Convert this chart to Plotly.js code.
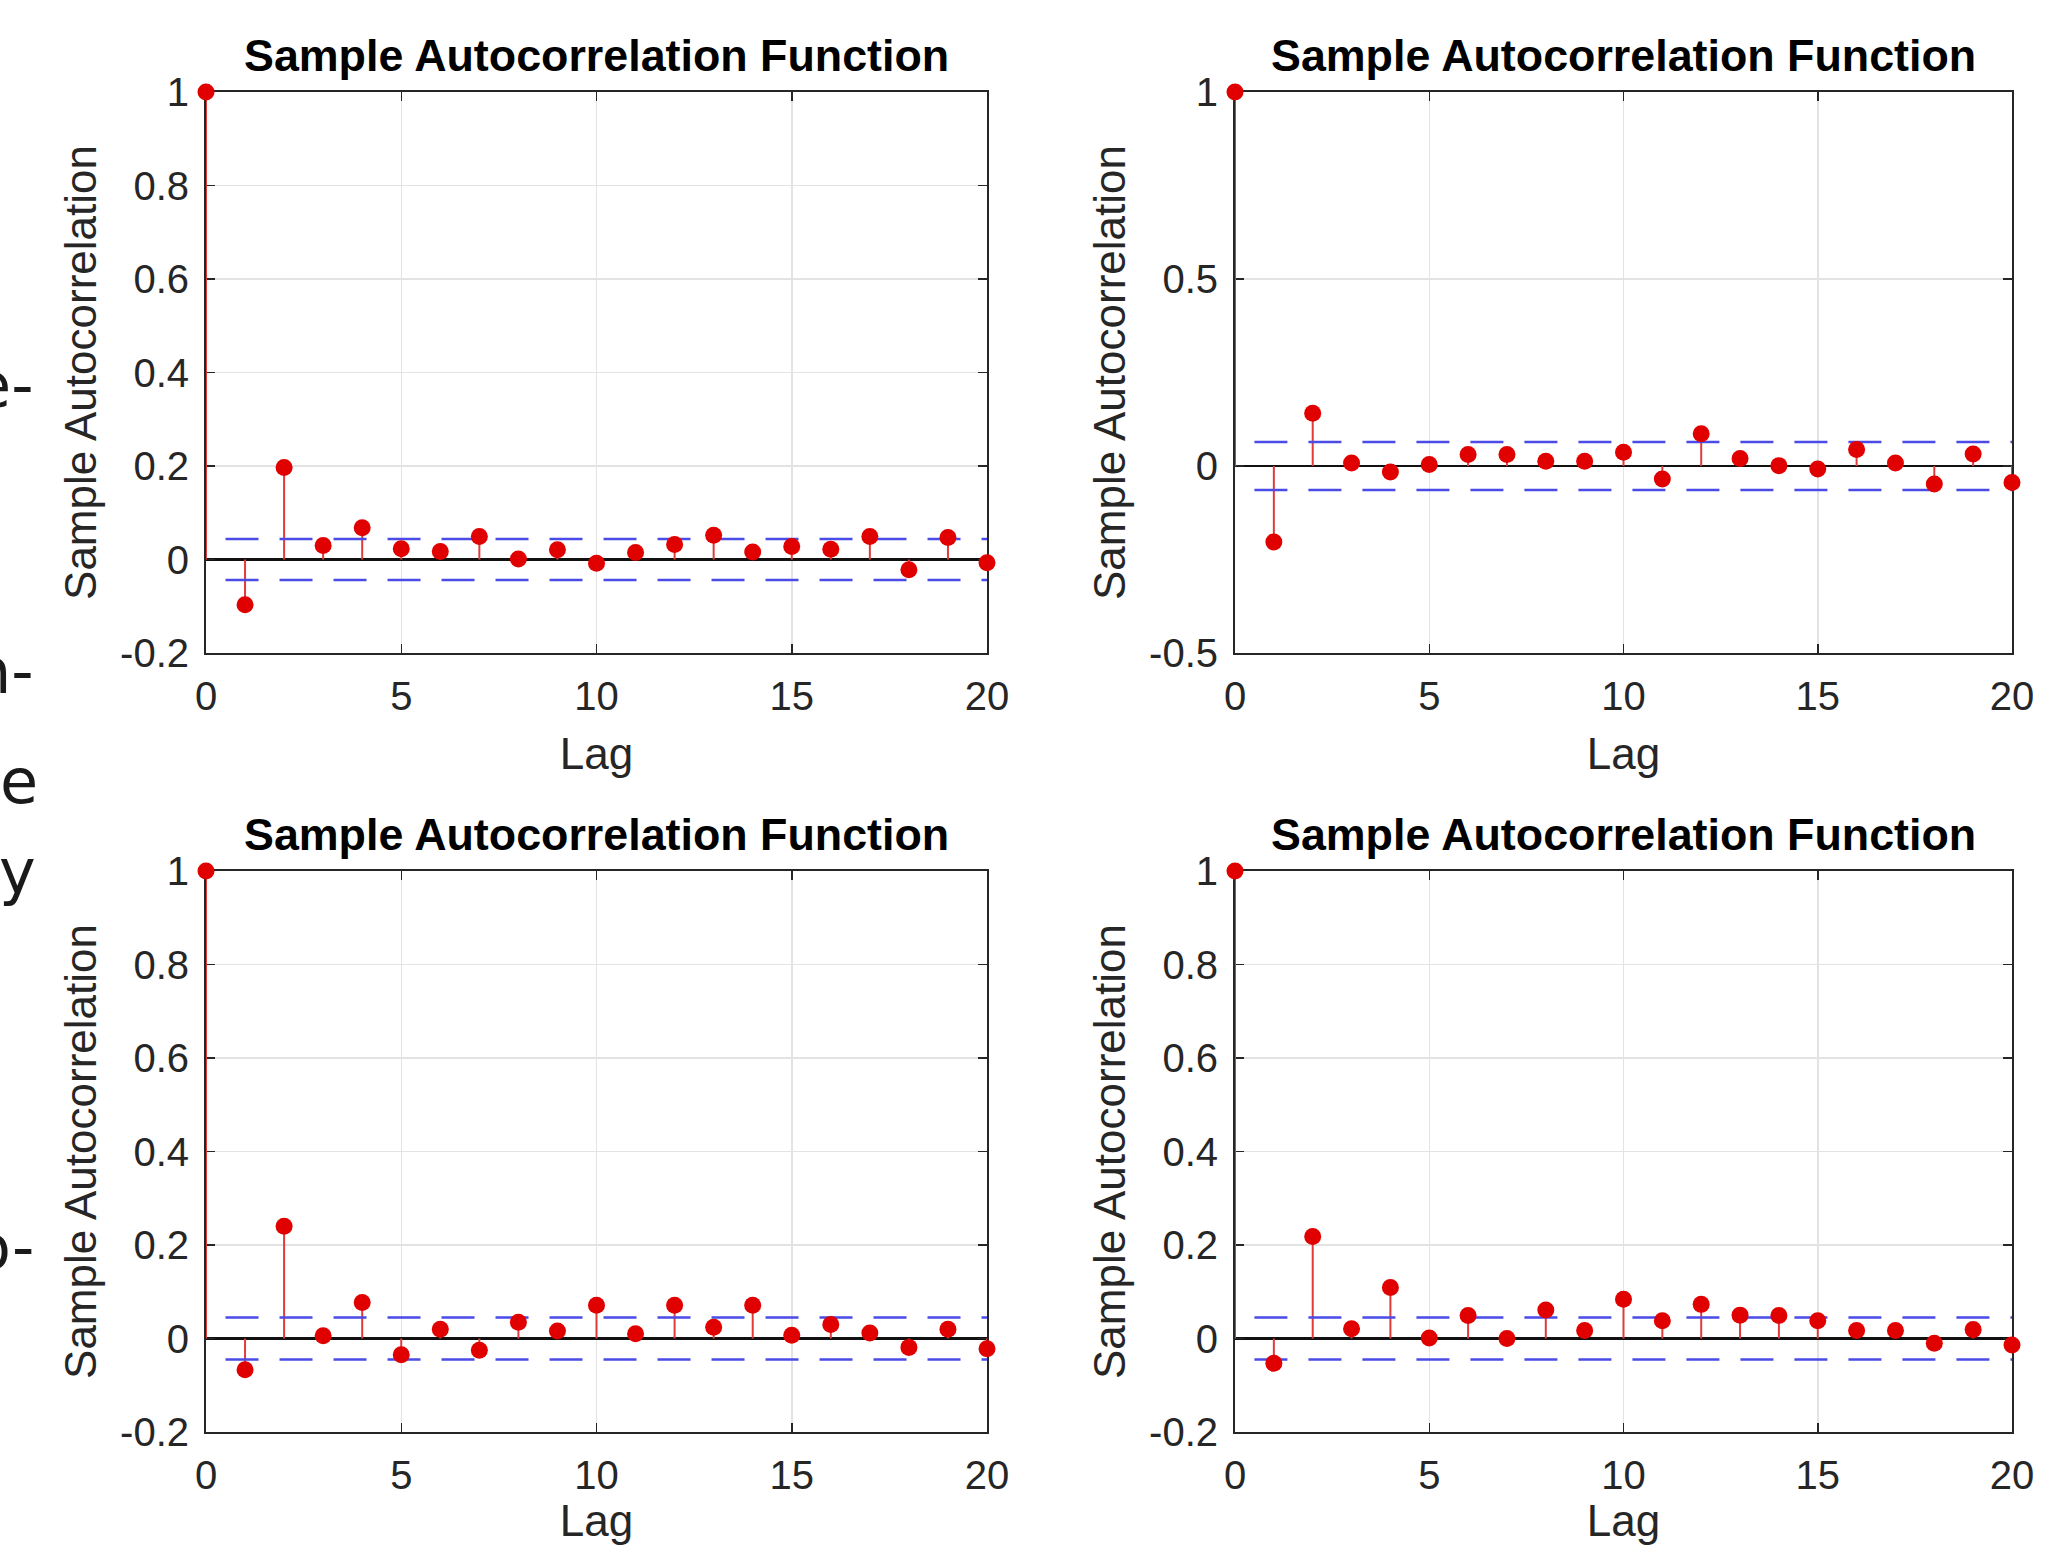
<!DOCTYPE html>
<html>
<head>
<meta charset="utf-8">
<script src="https://cdn.plot.ly/plotly-3.0.1.min.js"></script>
<style>html,body{margin:0;padding:0;background:#fff;} #chart{width:2047px;height:1545px;}</style>
</head>
<body>
<div id="chart"></div>
<script>
// ---- data ----
const lags = [0,1,2,3,4,5,6,7,8,9,10,11,12,13,14,15,16,17,18,19,20];
const acfTopLeft = [1.0,-0.097,0.197,0.030,0.068,0.023,0.017,0.049,0.001,0.021,-0.008,0.015,0.032,0.052,0.016,0.028,0.022,0.049,-0.022,0.047,-0.007];
const acfTopRight = [1.0,-0.203,0.141,0.008,-0.016,0.004,0.031,0.031,0.013,0.013,0.037,-0.035,0.086,0.020,0.001,-0.008,0.044,0.008,-0.048,0.032,-0.044];
const acfBottomLeft = [1.0,-0.067,0.240,0.006,0.077,-0.035,0.020,-0.025,0.035,0.016,0.071,0.010,0.071,0.024,0.071,0.007,0.030,0.012,-0.019,0.020,-0.022];
const acfBottomRight = [1.0,-0.053,0.218,0.021,0.109,0.001,0.049,0.000,0.061,0.017,0.084,0.038,0.073,0.050,0.049,0.038,0.017,0.017,-0.010,0.019,-0.014];
const boundTopLeft = 0.044;
const boundTopRight = 0.064;
const boundBottomLeft = 0.045;
const boundBottomRight = 0.045;
const boundLagStart = 0.5;
const boundLagEnd = 20;
const xTickVals = [0,5,10,15,20];
const xTickText = ["0","5","10","15","20"];
const yTickVals = [-0.2,0,0.2,0.4,0.6,0.8,1];
const yTickText = ["-0.2","0","0.2","0.4","0.6","0.8","1"];
const yTickValsWide = [-0.5,0,0.5,1];
const yTickTextWide = ["-0.5","0","0.5","1"];
const chartTitle = "Sample Autocorrelation Function";
const xLabel = "Lag";
const yLabel = "Sample Autocorrelation";
const sideFragments = ["e-","n-","e","y","o-"];

// ---- layout helpers ----
const W = 2047, H = 1545;
const FONT = '"Liberation Sans", Arial, Helvetica, sans-serif';
const px = v => v / W;
const py = v => 1 - v / H;
const colL = [206, 987], colR = [1235, 2012];
const rowT = [92, 653], rowB = [871, 1432];

const panels = [
  {acf: acfTopLeft, bound: boundTopLeft, col: colL, row: rowT, yr: [-0.2, 1], tv: yTickVals, tt: yTickText},
  {acf: acfTopRight, bound: boundTopRight, col: colR, row: rowT, yr: [-0.5, 1], tv: yTickValsWide, tt: yTickTextWide},
  {acf: acfBottomLeft, bound: boundBottomLeft, col: colL, row: rowB, yr: [-0.2, 1], tv: yTickVals, tt: yTickText},
  {acf: acfBottomRight, bound: boundBottomRight, col: colR, row: rowB, yr: [-0.2, 1], tv: yTickVals, tt: yTickText}
];

const traces = [];
const layout = {
  width: W, height: H,
  margin: {l: 0, r: 0, t: 0, b: 0, pad: 0},
  paper_bgcolor: '#ffffff', plot_bgcolor: '#ffffff',
  showlegend: false,
  font: {family: FONT, color: '#262626'},
  annotations: [],
  hovermode: false
};

panels.forEach((p, i) => {
  const n = i === 0 ? '' : String(i + 1);
  const xa = 'x' + n, ya = 'y' + n;
  // stems
  const sx = [], sy = [];
  lags.forEach((l, k) => { sx.push(l, l, null); sy.push(0, p.acf[k], null); });
  traces.push({type: 'scatter', mode: 'lines', x: sx, y: sy, xaxis: xa, yaxis: ya,
    line: {color: 'rgb(222,60,60)', width: 2}, cliponaxis: false});
  // confidence bounds
  traces.push({type: 'scatter', mode: 'lines', x: [boundLagStart, boundLagEnd], y: [p.bound, p.bound],
    xaxis: xa, yaxis: ya, line: {color: 'rgb(75,75,232)', width: 2.4, dash: '33px,21px'}});
  traces.push({type: 'scatter', mode: 'lines', x: [boundLagStart, boundLagEnd], y: [-p.bound, -p.bound],
    xaxis: xa, yaxis: ya, line: {color: 'rgb(75,75,232)', width: 2.4, dash: '33px,21px'}});
  // markers
  traces.push({type: 'scatter', mode: 'markers', x: lags, y: p.acf, xaxis: xa, yaxis: ya,
    marker: {color: 'rgb(225,0,0)', size: 17, line: {width: 0}}, cliponaxis: false});

  const common = {
    showline: true, linecolor: '#262626', linewidth: 2, mirror: 'ticks',
    ticks: 'inside', ticklen: 9, tickwidth: 1.5, tickcolor: '#262626',
    showgrid: true, gridcolor: '#e3e3e3', gridwidth: 1.5,
    tickfont: {family: FONT, size: 40, color: '#262626'},
    ticklabelstandoff: 7,
    automargin: false, fixedrange: true, layer: 'below traces'
  };
  layout['xaxis' + n] = Object.assign({}, common, {
    domain: [px(p.col[0]), px(p.col[1])], anchor: ya, range: [0, 20],
    tickmode: 'array', tickvals: xTickVals, ticktext: xTickText, zeroline: false,
    title: {text: xLabel, font: {family: FONT, size: 44, color: '#262626'}, standoff: 21}
  });
  layout['yaxis' + n] = Object.assign({}, common, {
    domain: [py(p.row[1]), py(p.row[0])], anchor: xa, range: p.yr,
    tickmode: 'array', tickvals: p.tv, ticktext: p.tt,
    zeroline: true, zerolinecolor: '#111111', zerolinewidth: 2.5,
    title: {text: yLabel, font: {family: FONT, size: 44, color: '#262626'}, standoff: 10}
  });
  layout.annotations.push({
    xref: 'paper', yref: 'paper', x: px((p.col[0] + p.col[1]) / 2), y: py(p.row[0] - 37),
    xanchor: 'center', yanchor: 'middle', showarrow: false,
    text: '<b>' + chartTitle + '</b>', font: {family: FONT, size: 44.8, color: '#000000'}
  });
});

// fragments of surrounding page text at the far left edge (cut off in the source image)
const fragY = [385, 672, 781, 872, 1247];
const fragRight = [36, 36, 40, 38, 36];
sideFragments.forEach((t, i) => {
  layout.annotations.push({
    xref: 'paper', yref: 'paper', x: px(fragRight[i]), y: py(fragY[i]),
    xanchor: 'right', yanchor: 'middle', showarrow: false, text: t,
    font: {family: '"DejaVu Sans", sans-serif', size: 62, color: '#1a1a1a'}
  });
});

Plotly.newPlot('chart', traces, layout, {staticPlot: true, displayModeBar: false});
</script>
</body>
</html>
